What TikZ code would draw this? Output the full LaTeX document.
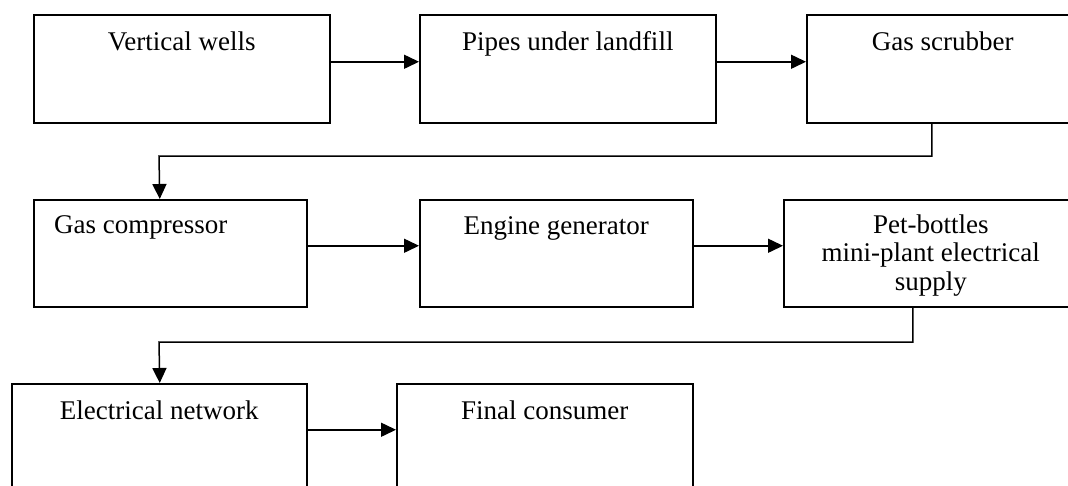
\documentclass[tikz,border=0pt]{standalone}
\usepackage{fontspec}
\setmainfont{Liberation Serif}
\usetikzlibrary{arrows.meta}
\begin{document}
\begin{tikzpicture}[x=1pt,y=-1pt,
  box/.style={draw,line width=1.5pt,rectangle,inner sep=0pt,anchor=north west},
  lbl/.style={inner sep=0pt,anchor=base,font=\fontsize{27}{28.5}\selectfont},
  arr/.style={line width=1.5pt,-{Triangle[length=15pt,width=14pt]}},
  ln/.style={line width=1.5pt}]
\useasboundingbox (0,0) rectangle (1068,485);
\fill[white] (0,0) rectangle (1068,485);
\begin{scope}
\clip (0,0) rectangle (1068,485);
% row 1
\node[box,minimum width=296pt,minimum height=108pt] (b1) at (33,14) {};
\node[box,minimum width=296pt,minimum height=108pt] (b2) at (419,14) {};
\node[box,minimum width=272pt,minimum height=108pt] (b3) at (806,14) {};
% row 2
\node[box,minimum width=273pt,minimum height=107pt] (b4) at (33,199) {};
\node[box,minimum width=273pt,minimum height=107pt] (b5) at (419,199) {};
\node[box,minimum width=294pt,minimum height=107pt] (b6) at (783,199) {};
% row 3
\node[box,minimum width=295pt,minimum height=108pt] (b7) at (11,383) {};
\node[box,minimum width=296pt,minimum height=108pt] (b8) at (396,383) {};
\end{scope}
% labels
\node[lbl] (t1) at ([yshift=-36pt]b1.north) {Vertical wells};
\node[lbl] (t2) at ([yshift=-36pt]b2.north) {Pipes under landfill};
\node[lbl] (t3) at ([yshift=-36pt]b3.north) {Gas scrubber};
\node[lbl,anchor=base west] (t4) at ([xshift=21pt,yshift=-34pt]b4.north west) {Gas compressor};
\node[lbl] (t5) at ([yshift=-35pt]b5.north) {Engine generator};
\node[lbl,align=center] (t6) at ([yshift=-91pt]b6.north) {Pet-bottles\\mini-plant electrical\\supply};
\node[lbl] (t7) at ([yshift=-36pt]b7.north) {Electrical network};
\node[lbl] (t8) at ([yshift=-36pt]b8.north) {Final consumer};
% connectors
\draw[arr] ([yshift=7pt]b1.east) -- ([yshift=7pt]b2.west);
\draw[arr] ([yshift=7pt]b2.east) -- ([yshift=7pt]b3.west);
\coordinate (k1) at (159,156);
\draw[arr] ([xshift=-11pt]b3.south) |- (k1) -- ([xshift=-10.5pt]b4.north);
\draw[arr] ([yshift=7.5pt]b4.east) -- ([yshift=7.5pt]b5.west);
\draw[arr] ([yshift=7.5pt]b5.east) -- ([yshift=7.5pt]b6.west);
\coordinate (k2) at (159,342);
\draw[arr] ([xshift=-18pt]b6.south) |- (k2) -- ([xshift=0.5pt]b7.north);
\draw[arr] ([yshift=8pt]b7.east) -- ([yshift=8pt]b8.west);
\end{tikzpicture}
\end{document}
